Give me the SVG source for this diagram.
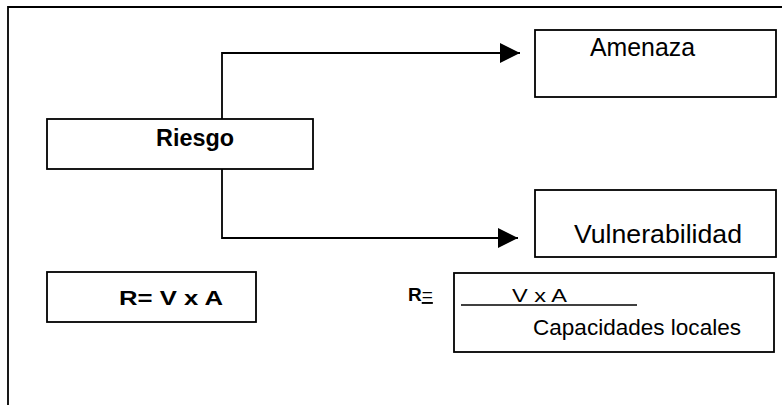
<svg xmlns="http://www.w3.org/2000/svg" width="782" height="405" viewBox="0 0 782 405">
<defs>
<marker id="arr" markerUnits="userSpaceOnUse" markerWidth="22" markerHeight="22" refX="20" refY="10" orient="auto">
<path d="M0,0 L20,10 L0,20 Z" fill="#000"/>
</marker>
<style>
.box{fill:#fff;stroke:#000;stroke-width:1.8}
.t{font-family:"Liberation Sans",Arial,sans-serif;fill:#000}
.b{font-weight:bold}
.conn{fill:none;stroke:#000;stroke-width:1.8}
</style>
</defs>
<rect x="0" y="0" width="782" height="405" fill="#fff"/>
<path d="M8,410 V7 H790" fill="none" stroke="#000" stroke-width="1.8"/>
<g id="connectors">
<path class="conn" d="M222,119 V53 H520" marker-end="url(#arr)"/>
<path class="conn" d="M222,169 V238 H518" marker-end="url(#arr)"/>
</g>
<g id="riesgo">
<rect class="box" x="47" y="119" width="266" height="50"/>
<text class="t b" x="156" y="146" font-size="24" textLength="78" lengthAdjust="spacingAndGlyphs">Riesgo</text>
</g>
<g id="amenaza">
<rect class="box" x="535" y="30" width="241" height="67"/>
<text class="t" x="590" y="56" font-size="25" textLength="105" lengthAdjust="spacingAndGlyphs">Amenaza</text>
</g>
<g id="vulnerabilidad">
<rect class="box" x="535" y="190" width="241" height="67"/>
<text class="t" x="574" y="243" font-size="25" textLength="168" lengthAdjust="spacingAndGlyphs">Vulnerabilidad</text>
</g>
<g id="formula1">
<rect class="box" x="47" y="272" width="209" height="50"/>
<text class="t b" x="119" y="305" font-size="20" textLength="104" lengthAdjust="spacingAndGlyphs">R= V x A</text>
</g>
<g id="formula2">
<text class="t" x="408" y="301" font-size="19"><tspan font-weight="bold">R</tspan><tspan text-decoration="underline">=</tspan></text>
<rect class="box" x="454" y="273" width="320" height="79"/>
<line x1="461" y1="305" x2="637" y2="305" stroke="#000" stroke-width="1.6"/>
<text class="t" x="512" y="302" font-size="18" textLength="55" lengthAdjust="spacingAndGlyphs">V x A</text>
<text class="t" x="533" y="335" font-size="22" textLength="208" lengthAdjust="spacingAndGlyphs">Capacidades locales</text>
</g>
</svg>
